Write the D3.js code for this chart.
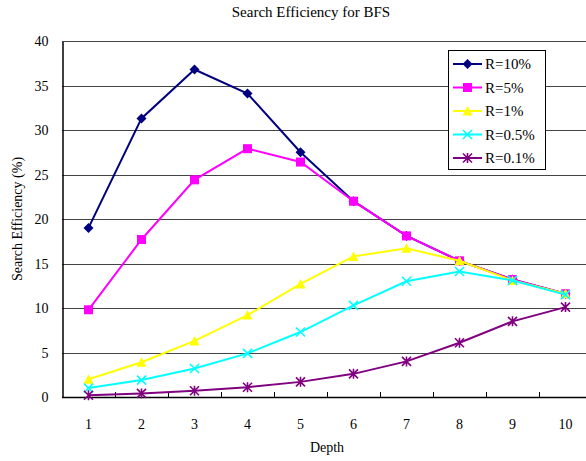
<!DOCTYPE html>
<html lang="en">
<head>
  <meta charset="UTF-8">
  <title>Search Efficiency for BFS</title>
  <script src="https://d3js.org/d3.v7.min.js"></script>
  <style>
    body {
      margin: 0;
      overflow: hidden;
      background: #ffffff;
    }
    svg text {
      font-family: "Liberation Serif", "DejaVu Serif", serif;
      fill: #000;
    }
    .grid line {
      stroke: #444;
      stroke-width: 1;
    }
  </style>
</head>
<body>
  <svg width="586" height="461"></svg>

  <script>
    const depths = [1, 2, 3, 4, 5, 6, 7, 8, 9, 10];
    const yTicks = [0, 5, 10, 15, 20, 25, 30, 35, 40];

    const r10 = [19.0, 31.3, 36.8, 34.1, 27.5, 22.0, 18.1, 15.3, 13.2, 11.6];
    const r5 = [9.8, 17.7, 24.4, 27.9, 26.4, 22.0, 18.1, 15.3, 13.2, 11.6];
    const r1 = [2.0, 3.9, 6.3, 9.2, 12.7, 15.8, 16.7, 15.3, 13.1, 11.6];
    const r05 = [1.0, 1.9, 3.2, 4.9, 7.3, 10.3, 13.0, 14.1, 13.1, 11.5];
    const r01 = [0.2, 0.4, 0.7, 1.1, 1.7, 2.6, 4.0, 6.1, 8.5, 10.1];

    const series = [
      { name: "R=10%", values: r10, color: "#000080", marker: "diamond" },
      { name: "R=5%", values: r5, color: "#ff00ff", marker: "square" },
      { name: "R=1%", values: r1, color: "#ffff00", marker: "triangle" },
      { name: "R=0.5%", values: r05, color: "#00ffff", marker: "cross" },
      { name: "R=0.1%", values: r01, color: "#800080", marker: "star" }
    ];

    const svg = d3.select("svg");
    const plotLeft = 62, plotRight = 592, plotTop = 41, plotBottom = 397;

    const x = d3.scaleBand().domain(depths).range([plotLeft, plotRight]);
    const y = d3.scaleLinear().domain([0, 40]).range([plotBottom, plotTop]);
    const cx = d => x(d) + x.bandwidth() / 2;

    // gridlines
    svg.append("g")
      .attr("class", "grid")
      .selectAll("line")
      .data(yTicks.filter(t => t > 0))
      .join("line")
      .attr("x1", plotLeft).attr("x2", plotRight)
      .attr("y1", d => Math.round(y(d)) + 0.5)
      .attr("y2", d => Math.round(y(d)) + 0.5);

    // y axis
    const yAxis = svg.append("g")
      .attr("transform", `translate(${plotLeft + 0.5},0.5)`)
      .call(d3.axisLeft(y).tickValues(yTicks).tickSize(0).tickPadding(14));
    yAxis.attr("font-family", null);
    yAxis.select(".domain").attr("stroke", "#000").attr("stroke-width", 1.5);
    yAxis.selectAll("text").attr("font-size", 14);

    // x axis, tick marks between categories pointing up
    svg.append("line")
      .attr("x1", plotLeft).attr("x2", plotRight)
      .attr("y1", plotBottom + 0.5).attr("y2", plotBottom + 0.5)
      .attr("stroke", "#000").attr("stroke-width", 1.5);
    svg.append("g")
      .selectAll("line")
      .data(depths.slice(1))
      .join("line")
      .attr("x1", d => Math.round(x(d)) + 0.5)
      .attr("x2", d => Math.round(x(d)) + 0.5)
      .attr("y1", plotBottom).attr("y2", plotBottom - 5)
      .attr("stroke", "#000");
    svg.append("g")
      .selectAll("text")
      .data(depths)
      .join("text")
      .attr("x", d => cx(d))
      .attr("y", 429)
      .attr("text-anchor", "middle")
      .attr("font-size", 14)
      .text(d => d);

    // titles
    svg.append("text")
      .attr("x", 311).attr("y", 17)
      .attr("text-anchor", "middle")
      .attr("font-size", 15)
      .text("Search Efficiency for BFS");
    svg.append("text")
      .attr("x", 327).attr("y", 452)
      .attr("text-anchor", "middle")
      .attr("font-size", 14)
      .text("Depth");
    svg.append("text")
      .attr("transform", "translate(22,219) rotate(-90)")
      .attr("text-anchor", "middle")
      .attr("font-size", 14)
      .text("Search Efficiency (%)");

    function drawMarker(g, type, color) {
      if (type === "diamond") {
        g.append("path").attr("d", "M0,-5L5,0L0,5L-5,0Z").attr("fill", color);
      } else if (type === "square") {
        g.append("rect").attr("x", -4.5).attr("y", -4.5).attr("width", 9).attr("height", 9).attr("fill", color);
      } else if (type === "triangle") {
        g.append("path").attr("d", "M0,-5L5,4.5L-5,4.5Z").attr("fill", color);
      } else if (type === "cross") {
        g.append("path").attr("d", "M-4.5,-4.5L4.5,4.5M4.5,-4.5L-4.5,4.5")
          .attr("stroke", color).attr("stroke-width", 1.6);
      } else {
        g.append("path").attr("d", "M-4.5,-4.5L4.5,4.5M4.5,-4.5L-4.5,4.5M0,-5L0,5")
          .attr("stroke", color).attr("stroke-width", 1.6);
      }
    }

    const line = d3.line().x((d, i) => cx(depths[i])).y(d => y(d));

    series.forEach(s => {
      svg.append("path")
        .datum(s.values)
        .attr("fill", "none")
        .attr("stroke", s.color)
        .attr("stroke-width", 2)
        .attr("d", line);
      s.values.forEach((v, i) => {
        const g = svg.append("g").attr("transform", `translate(${cx(depths[i])},${y(v)})`);
        drawMarker(g, s.marker, s.color);
      });
    });

    // legend
    const legend = svg.append("g");
    legend.append("rect")
      .attr("x", 448.5).attr("y", 50.5)
      .attr("width", 97).attr("height", 119)
      .attr("fill", "#fff").attr("stroke", "#000");
    series.forEach((s, i) => {
      const ly = 64 + i * 23.5;
      legend.append("line")
        .attr("x1", 453).attr("x2", 482)
        .attr("y1", ly).attr("y2", ly)
        .attr("stroke", s.color).attr("stroke-width", 2);
      drawMarker(legend.append("g").attr("transform", `translate(467.5,${ly})`), s.marker, s.color);
      legend.append("text")
        .attr("x", 485).attr("y", ly + 5)
        .attr("font-size", 15)
        .text(s.name);
    });
  </script>
</body>
</html>
